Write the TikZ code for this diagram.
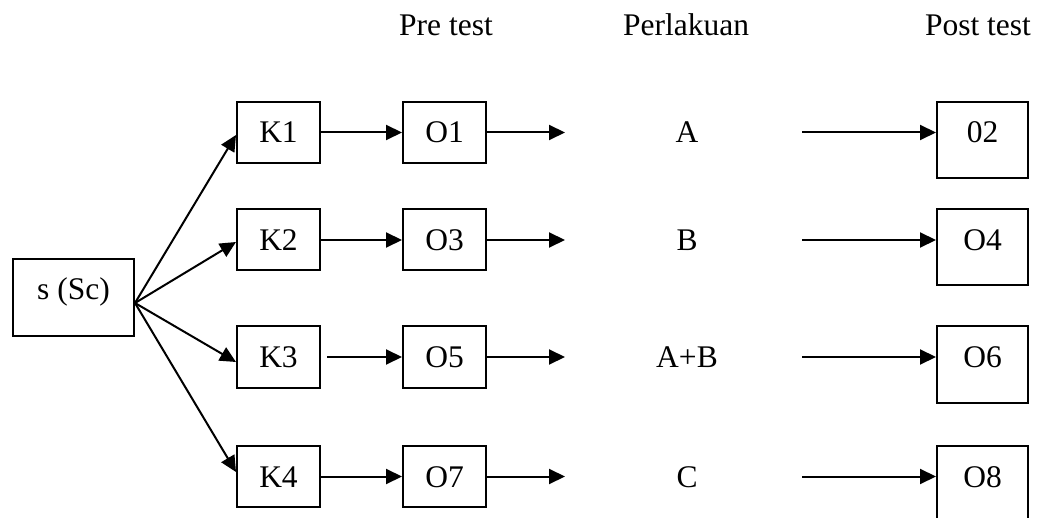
\documentclass[tikz,border=0pt]{standalone}
\usepackage{fontspec}
\setmainfont{Liberation Serif}
\usetikzlibrary{arrows.meta,calc}
\begin{document}
\begin{tikzpicture}[x=1pt,y=-1pt,
  every node/.style={font=\fontsize{31.5}{36}\selectfont},
  box/.style={draw,line width=2pt,inner sep=0pt,anchor=base,
    text height=41pt,text depth=20pt,minimum width=83pt},
  postbox/.style={box,text depth=35pt,minimum width=91pt},
  srcbox/.style={box,text depth=36pt,minimum width=121pt},
  lbl/.style={anchor=base,inner sep=0pt},
  link/.style={line width=2pt,-{Triangle[length=16pt,width=15pt]}}]
\useasboundingbox (0,0) rectangle (1038,518);
\clip (0,0) rectangle (1038,518);

% column headings
\node[lbl] (hpre)   at (446,36) {Pre test};
\node[lbl] (htreat) at (686,36) {Perlakuan};
\node[lbl] (hpost)  at (978,36) {Post test};

% source group
\node[srcbox] (s) at (73.5,300) {s (Sc)};
\coordinate (hub) at ($(s.east)+(0,5.5)$);

% groups, pre tests, treatments, post tests
\node[box] (K1) at (278.5,143)   {K1};
\node[box] (K2) at (278.5,250.5) {K2};
\node[box] (K3) at (278.5,367.5) {K3};
\node[box] (K4) at (278.5,487)   {K4};

\node[box] (O1) at (444.5,143)   {O1};
\node[box] (O3) at (444.5,250.5) {O3};
\node[box] (O5) at (444.5,367.5) {O5};
\node[box] (O7) at (444.5,487)   {O7};

\node[lbl] (tA)  at (687,143)   {A};
\node[lbl] (tB)  at (687,250.5) {B};
\node[lbl] (tAB) at (687,367.5) {A+B};
\node[lbl] (tC)  at (687,487)   {C};

\node[postbox] (Q2) at (982.5,143)   {02};
\node[postbox] (Q4) at (982.5,250.5) {O4};
\node[postbox] (Q6) at (982.5,367.5) {O6};
\node[postbox] (Q8) at (982.5,487)   {O8};

% arrow ends around the treatments
\coordinate (e1) at (565,132.5);
\coordinate (e2) at (565,240);
\coordinate (e3) at (565,357);
\coordinate (e4) at (565,476.5);
\coordinate (p1) at (802,132.5);
\coordinate (p2) at (802,240);
\coordinate (p3) at (802,357);
\coordinate (p4) at (802,476.5);

% fan-out from the source
\draw[link] (hub) -- ($(K1.west)+(0,2.5)$);
\draw[link] (hub) -- ($(K2.west)+(0,2)$);
\draw[link] (hub) -- ($(K3.west)+(0,5)$);
\draw[link] (hub) -- ($(K4.west)+(0,-4.5)$);

% groups to pre tests
\draw[link] (K1.east) -- (O1.west);
\draw[link] (K2.east) -- (O3.west);
\draw[link,shorten <=6pt] (K3.east) -- (O5.west);
\draw[link] (K4.east) -- (O7.west);

% pre tests into treatments
\draw[link] (O1.east) -- (e1);
\draw[link] (O3.east) -- (e2);
\draw[link] (O5.east) -- (e3);
\draw[link] (O7.east) -- (e4);

% treatments to post tests
\draw[link] (p1) -- (p1 -| Q2.west);
\draw[link] (p2) -- (p2 -| Q4.west);
\draw[link] (p3) -- (p3 -| Q6.west);
\draw[link] (p4) -- (p4 -| Q8.west);
\end{tikzpicture}
\end{document}
